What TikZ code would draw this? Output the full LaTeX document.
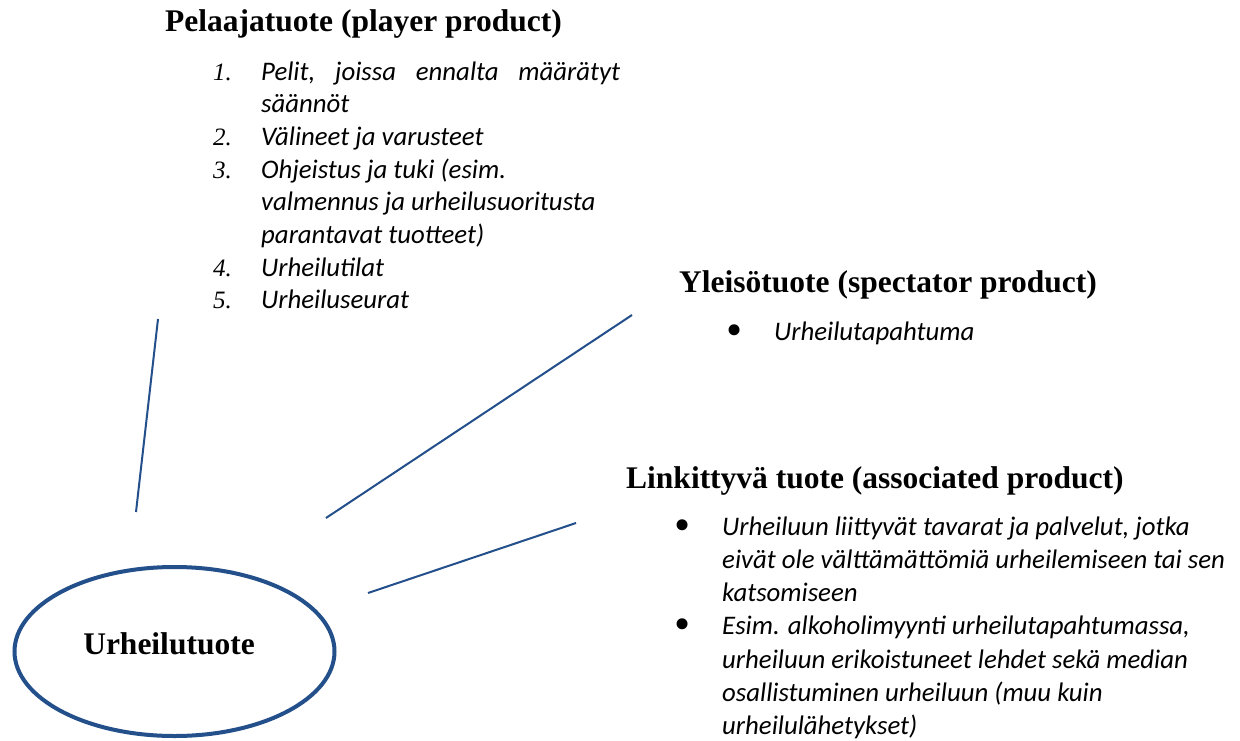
\documentclass[tikz,border=0pt]{standalone}
\usepackage{fontspec}
\setmainfont{Liberation Serif}
\newfontfamily\bodyf{Carlito}
\usetikzlibrary{shapes.geometric}
\definecolor{hubblue}{RGB}{35,79,138}
\tikzset{
  headtxt/.style={inner sep=0pt, anchor=base west, font=\fontsize{31.5}{36}\selectfont\bfseries},
  listtxt/.style={inner sep=0pt, anchor=base west, align=left},
  conn/.style={draw=hubblue, line width=2pt},
  hubshape/.style={ellipse, draw=hubblue, line width=4pt, fill=white, minimum width=320pt, minimum height=169pt, inner sep=0pt}
}
\newcommand{\numf}{\fontsize{25}{32.7}\selectfont\itshape}
\newcommand{\bul}{\raisebox{-5pt}[0pt][0pt]{\fontsize{46}{32}\selectfont\textbullet}}
\begin{document}
\begin{tikzpicture}[x=1pt,y=-1pt]
\useasboundingbox (0,0) rectangle (1240,740);
\fill[white] (0,0) rectangle (1240,740);

% headings
\node[headtxt] (h1) at (165,31) {Pelaajatuote (player product)};
\node[headtxt] (h2) at (679,292) {Yleisötuote (spectator product)};
\node[headtxt] (h3) at (626,488) {Linkittyvä tuote (associated product)};

% list 1
\node[listtxt] (l1) at (213,80) {\bodyf\fontsize{26.8}{32.7}\selectfont\itshape
\begin{tabular}[t]{@{}p{48pt}@{}l@{}}
{\rmfamily\numf 1.} & \hbox to 359pt{Pelit,\hfill joissa\hfill ennalta\hfill määrätyt}\\
 & säännöt\\
{\rmfamily\numf 2.} & Välineet ja varusteet\\
{\rmfamily\numf 3.} & Ohjeistus ja tuki (esim.\\
 & valmennus ja urheilusuoritusta\\
 & parantavat tuotteet)\\
{\rmfamily\numf 4.} & Urheilutilat\\
{\rmfamily\fontsize{25}{32.7}\selectfont 5.} & Urheiluseurat
\end{tabular}};

% list 2
\node[listtxt] (l2) at (726,340) {\bodyf\fontsize{26.8}{33.3}\selectfont\itshape
\begin{tabular}[t]{@{}p{48pt}@{}l@{}}
{\rmfamily\upshape\bul} & Urheilutapahtuma
\end{tabular}};

% list 3
\node[listtxt] (l3) at (674,535) {\bodyf\fontsize{26.8}{33.3}\selectfont\itshape
\begin{tabular}[t]{@{}p{48pt}@{}l@{}}
{\rmfamily\upshape\bul} & Urheiluun liittyvät tavarat ja palvelut, jotka\\
 & eivät ole välttämättömiä urheilemiseen tai sen\\
 & katsomiseen\\
{\rmfamily\upshape\bul} & Esim. alkoholimyynti urheilutapahtumassa,\\
 & urheiluun erikoistuneet lehdet sekä median\\
 & osallistuminen urheiluun (muu kuin\\
 & urheilulähetykset)
\end{tabular}};

% hub
\node[hubshape] (hub) at (174.5,651.5) {};
\node[headtxt, anchor=base] (hubtxt) at (169,654) {Urheilutuote};

% connectors
\coordinate (c1a) at (158,319);
\coordinate (c1b) at (136,512);
\coordinate (c2a) at (632,315);
\coordinate (c2b) at (326,518);
\coordinate (c3a) at (576,523);
\coordinate (c3b) at (368,593);
\draw[conn] (c1a) -- (c1b);
\draw[conn] (c2a) -- (c2b);
\draw[conn] (c3a) -- (c3b);
\end{tikzpicture}
\end{document}
